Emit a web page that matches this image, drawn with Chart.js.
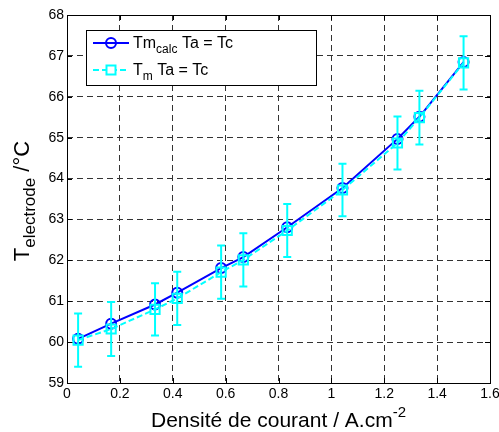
<!DOCTYPE html>
<html>
<head>
<meta charset="utf-8">
<script src="https://cdn.jsdelivr.net/npm/chart.js@4.4.1/dist/chart.umd.min.js"></script>
<style>
  html, body { margin: 0; padding: 0; background: #fff; }
  #wrap { position: relative; width: 499px; height: 432px; }
</style>
</head>
<body>
<div id="wrap"><canvas id="tempChart"></canvas></div>
<script>
// data
const currentDensity = [0.042, 0.167, 0.333, 0.417, 0.583, 0.667, 0.833, 1.042, 1.25, 1.333, 1.5];
const tmCalc = [60.08, 60.45, 60.92, 61.21, 61.81, 62.08, 62.81, 63.77, 64.97, 65.51, 66.85];
const tmMeasured = [60.05, 60.32, 60.80, 61.07, 61.71, 62.01, 62.73, 63.72, 64.87, 65.49, 66.83];
const tmError = [0.65, 0.66, 0.64, 0.65, 0.65, 0.65, 0.65, 0.64, 0.65, 0.66, 0.65];
const xTicks = [0, 0.2, 0.4, 0.6, 0.8, 1, 1.2, 1.4, 1.6];
const yTicks = [59, 60, 61, 62, 63, 64, 65, 66, 67, 68];

const FONT = "'Liberation Sans', Arial, sans-serif";
const BLUE = '#0000ff';
const CYAN = '#00ffff';

// draws text pieces one after another, each with its own size and baseline shift
function drawRich(ctx, parts, x, y, align) {
    let total = 0;
    parts.forEach(p => {
        ctx.font = p.size + 'px ' + FONT;
        p.w = ctx.measureText(p.text).width;
        total += p.w;
    });
    let cx = align === 'center' ? x - total / 2 : x;
    ctx.textAlign = 'left';
    ctx.textBaseline = 'alphabetic';
    parts.forEach(p => {
        ctx.font = p.size + 'px ' + FONT;
        ctx.fillText(p.text, cx, y + (p.dy || 0));
        cx += p.w;
    });
}

// error bars on the measured series, frame, inward ticks, titles and legend
const matlabLook = {
    id: 'matlabLook',
    beforeDatasetsDraw(chart) {
        const { ctx, chartArea: a, scales } = chart;
        ctx.save();
        ctx.strokeStyle = '#000';
        ctx.lineWidth = 1;
        ctx.beginPath();
        xTicks.forEach(v => {
            const px = Math.round(scales.x.getPixelForValue(v)) + 0.5;
            ctx.moveTo(px, a.bottom); ctx.lineTo(px, a.bottom - 5);
            ctx.moveTo(px, a.top); ctx.lineTo(px, a.top + 5);
        });
        yTicks.forEach(v => {
            const py = Math.round(scales.y.getPixelForValue(v)) + 0.5;
            ctx.moveTo(a.left, py); ctx.lineTo(a.left + 5, py);
            ctx.moveTo(a.right, py); ctx.lineTo(a.right - 5, py);
        });
        ctx.stroke();
        ctx.strokeRect(Math.round(a.left) + 0.5, Math.round(a.top) + 0.5,
            Math.round(a.right - a.left), Math.round(a.bottom - a.top));
        ctx.restore();
    },
    afterDatasetsDraw(chart) {
        const { ctx, scales } = chart;
        ctx.save();
        ctx.strokeStyle = CYAN;
        ctx.lineWidth = 2;
        ctx.beginPath();
        currentDensity.forEach((c, i) => {
            const px = scales.x.getPixelForValue(c);
            const top = scales.y.getPixelForValue(tmMeasured[i] + tmError[i]);
            const bot = scales.y.getPixelForValue(tmMeasured[i] - tmError[i]);
            ctx.moveTo(px, top); ctx.lineTo(px, bot);
            ctx.moveTo(px - 4, top); ctx.lineTo(px + 4, top);
            ctx.moveTo(px - 4, bot); ctx.lineTo(px + 4, bot);
        });
        ctx.stroke();
        ctx.restore();
    },
    afterDraw(chart) {
        const { ctx, chartArea: a } = chart;
        ctx.save();
        ctx.fillStyle = '#000';

        // x axis title
        drawRich(ctx, [
            { text: 'Densité de courant / A.cm', size: 21 },
            { text: '-2', size: 15, dy: -10 }
        ], (a.left + a.right) / 2, 427, 'center');

        // y axis title, rotated
        ctx.save();
        ctx.translate(29, 201);
        ctx.rotate(-Math.PI / 2);
        drawRich(ctx, [
            { text: 'T', size: 22 },
            { text: 'electrode', size: 17, dy: 6 },
            { text: ' /°C', size: 22 }
        ], 0, 0, 'center');
        ctx.restore();

        // legend box
        const bx = 86, by = 30, bw = 230, bh = 55;
        ctx.fillStyle = '#fff';
        ctx.fillRect(bx, by, bw, bh);
        ctx.strokeStyle = '#000';
        ctx.lineWidth = 1;
        ctx.strokeRect(bx + 0.5, by + 0.5, bw, bh);

        // entry 1
        ctx.strokeStyle = BLUE;
        ctx.lineWidth = 2;
        ctx.beginPath(); ctx.moveTo(93, 43); ctx.lineTo(129, 43); ctx.stroke();
        ctx.beginPath(); ctx.arc(111, 43, 5, 0, Math.PI * 2); ctx.stroke();
        ctx.fillStyle = '#000';
        drawRich(ctx, [
            { text: 'Tm', size: 16 },
            { text: 'calc', size: 12, dy: 5 },
            { text: ' Ta = Tc', size: 16 }
        ], 133, 48, 'left');

        // entry 2
        ctx.strokeStyle = CYAN;
        ctx.setLineDash([6, 3]);
        ctx.beginPath(); ctx.moveTo(93, 70); ctx.lineTo(129, 70); ctx.stroke();
        ctx.setLineDash([]);
        ctx.fillStyle = '#fff';
        ctx.fillRect(106.5, 65.5, 9, 9);
        ctx.strokeRect(106.5, 65.5, 9, 9);
        ctx.fillStyle = '#000';
        drawRich(ctx, [
            { text: 'T', size: 16 },
            { text: 'm', size: 12, dy: 5 },
            { text: ' Ta = Tc', size: 16 }
        ], 133, 75, 'left');

        ctx.restore();
    }
};

const ctx = document.getElementById('tempChart').getContext('2d');
new Chart(ctx, {
    type: 'line',
    data: {
        datasets: [{
            label: 'Tm calc Ta = Tc',
            data: currentDensity.map((c, i) => ({ x: c, y: tmCalc[i] })),
            borderColor: BLUE,
            borderWidth: 2,
            pointStyle: 'circle',
            pointRadius: 5,
            pointBorderWidth: 2,
            pointBorderColor: BLUE,
            pointBackgroundColor: 'rgba(0,0,0,0)',
            fill: false,
            tension: 0,
            order: 2
        }, {
            label: 'Tm Ta = Tc',
            data: currentDensity.map((c, i) => ({ x: c, y: tmMeasured[i] })),
            borderColor: CYAN,
            borderWidth: 2,
            borderDash: [6, 3],
            pointStyle: 'rect',
            pointRadius: 6.5,
            pointBorderWidth: 2,
            pointBorderColor: CYAN,
            pointBackgroundColor: 'rgba(0,0,0,0)',
            fill: false,
            tension: 0,
            order: 1
        }]
    },
    options: {
        responsive: true,
        maintainAspectRatio: false,
        animation: false,
        layout: { padding: { left: 0, top: 15, right: 9, bottom: 0 }, autoPadding: false },
        plugins: {
            legend: { display: false },
            tooltip: { enabled: false }
        },
        scales: {
            x: {
                type: 'linear',
                min: 0,
                max: 1.6,
                afterFit: scale => {
                    scale.height = 49;
                    scale.paddingLeft = 0;
                    scale.paddingRight = 0;
                },
                afterBuildTicks: scale => { scale.ticks = xTicks.map(v => ({ value: v })); },
                ticks: {
                    color: '#000',
                    font: { family: FONT, size: 14 },
                    padding: 3,
                    maxRotation: 0,
                    callback: v => String(Number(v.toFixed(1)))
                },
                grid: { color: '#333', lineWidth: 1, drawTicks: false },
                border: { display: false, dash: [6, 4] }
            },
            y: {
                type: 'linear',
                min: 59,
                max: 68,
                afterFit: scale => {
                    scale.width = 67;
                    scale.paddingTop = 0;
                    scale.paddingBottom = 0;
                },
                afterBuildTicks: scale => { scale.ticks = yTicks.map(v => ({ value: v })); },
                ticks: {
                    color: '#000',
                    font: { family: FONT, size: 14 },
                    padding: 3,
                    callback: v => String(v)
                },
                grid: { color: '#333', lineWidth: 1, drawTicks: false },
                border: { display: false, dash: [6, 4] }
            }
        }
    },
    plugins: [matlabLook]
});
</script>
</body>
</html>
